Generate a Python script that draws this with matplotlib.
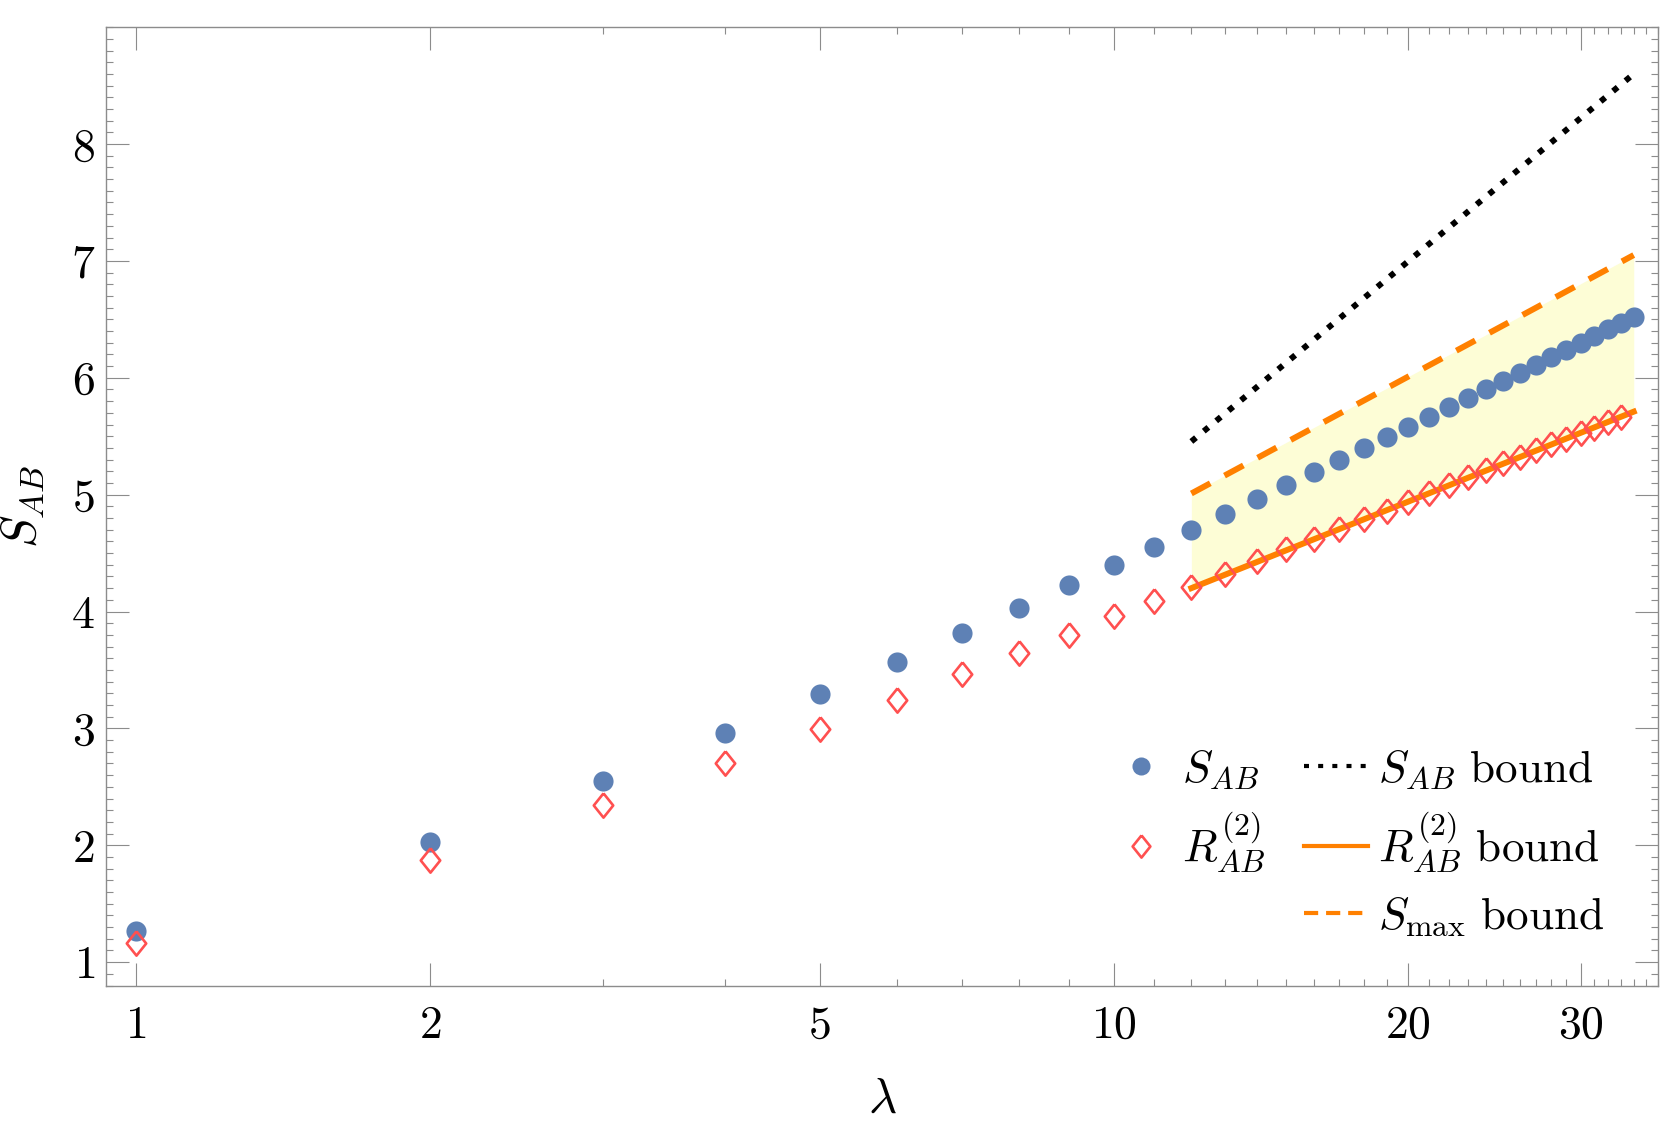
import matplotlib
matplotlib.use("Agg")
import matplotlib.pyplot as plt
from matplotlib.lines import Line2D
from matplotlib.ticker import FixedLocator, FixedFormatter, MultipleLocator

plt.rcParams['mathtext.fontset'] = 'cm'
plt.rcParams['font.family'] = ['cmr10', 'DejaVu Serif']
plt.rcParams['axes.formatter.use_mathtext'] = True

# data
lam = list(range(1, 35))
S_AB = [1.27, 2.03, 2.55, 2.96, 3.29, 3.57, 3.82, 4.03, 4.23, 4.40,
        4.556, 4.70, 4.837, 4.966, 5.084, 5.192, 5.298, 5.395, 5.489, 5.578,
        5.666, 5.746, 5.823, 5.90, 5.97, 6.043, 6.111, 6.177, 6.24, 6.297,
        6.357, 6.414, 6.471, 6.519]
lam_R = list(range(1, 34))
R2_AB = [1.16, 1.874, 2.347, 2.706, 2.997, 3.246, 3.463, 3.643, 3.802, 3.96,
         4.087, 4.212, 4.322, 4.428, 4.533, 4.624, 4.71, 4.79, 4.864, 4.938,
         5.01, 5.081, 5.147, 5.21, 5.267, 5.324, 5.381, 5.432, 5.48, 5.529,
         5.572, 5.623, 5.666]

# bounds (straight lines on log-lambda axis), values at the end points
lam_bound = [12, 34]
S_bound = [5.455, 8.60]
R2_bound = [4.20, 5.71]
Smax_bound = [5.01, 7.05]

xticks = [1, 2, 5, 10, 20, 30]
yticks = [1, 2, 3, 4, 5, 6, 7, 8]

blue = '#5E81B5'
red = '#FF5050'
orange = '#FF8000'
shade = '#FDFDD6'
frame = '#8C8C8C'

fig = plt.figure(figsize=(16.67, 11.32), dpi=100)
ax = fig.add_axes([0.0636, 0.129, 0.931, 0.847])

ax.fill_between(lam_bound, R2_bound, Smax_bound, color=shade, lw=0, zorder=1)
ax.plot(lam_bound, S_bound, color='black', lw=4.3, dashes=(1.0, 1.7),
        dash_capstyle='butt', zorder=2)
ax.plot(lam_bound, Smax_bound, color=orange, lw=4.3, dashes=(3.6, 2.7),
        dash_capstyle='butt', zorder=2)
ax.plot(lam_bound, R2_bound, color=orange, lw=4.3, zorder=2)

diamond = [(0, 1), (0.8, 0), (0, -1), (-0.8, 0), (0, 1)]
ax.plot(lam, S_AB, 'o', color=blue, ms=14.5, mew=0, zorder=3)
ax.plot(lam_R, R2_AB, ls='none', marker=diamond, ms=17.5, mfc='none',
        mec=red, mew=1.9, zorder=4)

ax.set_xscale('log')
ax.set_xlim(0.932, 36.0)
ax.set_ylim(0.796, 9.0)

ax.xaxis.set_major_locator(FixedLocator(xticks))
ax.xaxis.set_major_formatter(FixedFormatter(['$%d$' % t for t in xticks]))
ax.xaxis.set_minor_locator(FixedLocator([v for v in range(1, 37) if v not in xticks]))
ax.xaxis.set_minor_formatter(FixedFormatter([]))
ax.yaxis.set_major_locator(FixedLocator(yticks))
ax.yaxis.set_major_formatter(FixedFormatter(['$%d$' % t for t in yticks]))
ax.yaxis.set_minor_locator(MultipleLocator(0.1))

ax.tick_params(which='both', direction='in', top=True, right=True,
               color=frame, width=0.8, labelsize=33)
ax.tick_params(which='major', length=16.5)
ax.tick_params(which='minor', length=5)
ax.tick_params(axis='x', which='major', pad=14)
ax.tick_params(axis='y', which='major', pad=8)
for sp in ax.spines.values():
    sp.set_color(frame)
    sp.set_linewidth(1.0)

ax.set_xlabel(r'$\lambda$', fontsize=35, labelpad=22)
ax.set_ylabel(r'$S_{AB}$', fontsize=35, labelpad=18)

blank = Line2D([], [], ls='none')
handles = [
    Line2D([], [], ls='none', marker='o', color=blue, ms=13, mew=0),
    Line2D([], [], ls='none', marker=diamond, ms=16, mfc='none', mec=red, mew=1.9),
    blank,
    Line2D([], [], color='black', lw=3.0, dashes=(1.2, 2.2), dash_capstyle='butt'),
    Line2D([], [], color=orange, lw=3.0),
    Line2D([], [], color=orange, lw=3.0, dashes=(3.4, 1.9), dash_capstyle='butt'),
]
labels = [r'$S_{AB}$', r'$R^{(2)}_{AB}$', '',
          r'$S_{AB}\ \mathrm{bound}$', r'$R^{(2)}_{AB}\ \mathrm{bound}$',
          r'$S_{\max}\ \mathrm{bound}$']
ax.legend(handles, labels, ncol=2, loc='lower right',
          bbox_to_anchor=(0.965, 0.05), frameon=False, fontsize=32.5,
          handlelength=1.4, handletextpad=0.22, columnspacing=0.85,
          labelspacing=0.44, borderpad=0, borderaxespad=0)

fig.savefig('out.png', dpi=100)
